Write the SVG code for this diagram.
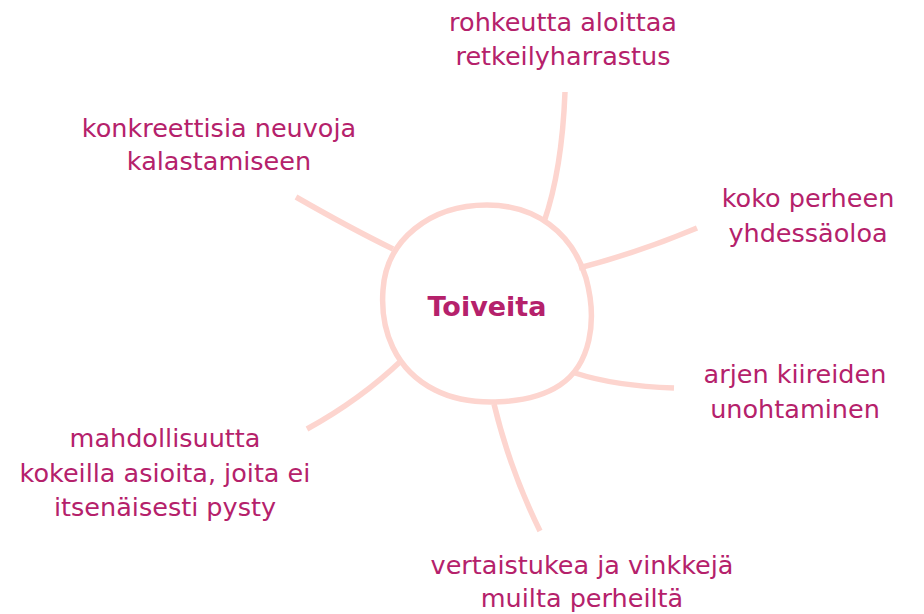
<svg xmlns="http://www.w3.org/2000/svg" width="924" height="614" viewBox="0 0 924 614">
<style>
.t{font-family:"DejaVu Sans","Liberation Sans",sans-serif;font-size:25.5px;fill:#b5216b;text-anchor:middle}
.c{fill:none;stroke:#fdd5cf;stroke-width:5.5}
</style>
<rect width="924" height="614" fill="#ffffff"/>
<g id="connectors" class="c">
<path d="M565 92 Q562 170 544 222"/>
<path d="M697 228 Q640 252 579 268"/>
<path d="M575 373 Q615 386 674 388"/>
<path d="M494 404 Q510 470 540 531"/>
<path d="M402 360 Q360 400 307 429"/>
<path d="M296 197 Q350 228 393 249"/>
</g>
<g id="center">
<path class="c" d="M487 205 C535 205 572 232 586 278 C598 322 590 365 560 385 C530 405 470 408 435 390 C395 370 380 330 383 290 C386 240 430 205 487 205 Z" fill="#ffffff"/>
<text x="487" y="316" class="t" style="font-weight:bold;font-size:27px">Toiveita</text>
</g>
<g id="n1"><text class="t" x="563" y="31">rohkeutta aloittaa</text><text class="t" x="563" y="65">retkeilyharrastus</text></g>
<g id="n2"><text class="t" x="219" y="137">konkreettisia neuvoja</text><text class="t" x="219" y="170">kalastamiseen</text></g>
<g id="n3"><text class="t" x="808" y="207">koko perheen</text><text class="t" x="808" y="242">yhdessäoloa</text></g>
<g id="n4"><text class="t" x="795" y="383">arjen kiireiden</text><text class="t" x="795" y="418">unohtaminen</text></g>
<g id="n5"><text class="t" x="165" y="447">mahdollisuutta</text><text class="t" x="165" y="482">kokeilla asioita, joita ei</text><text class="t" x="165" y="516">itsenäisesti pysty</text></g>
<g id="n6"><text class="t" x="582" y="574">vertaistukea ja vinkkejä</text><text class="t" x="582" y="607">muilta perheiltä</text></g>
</svg>
